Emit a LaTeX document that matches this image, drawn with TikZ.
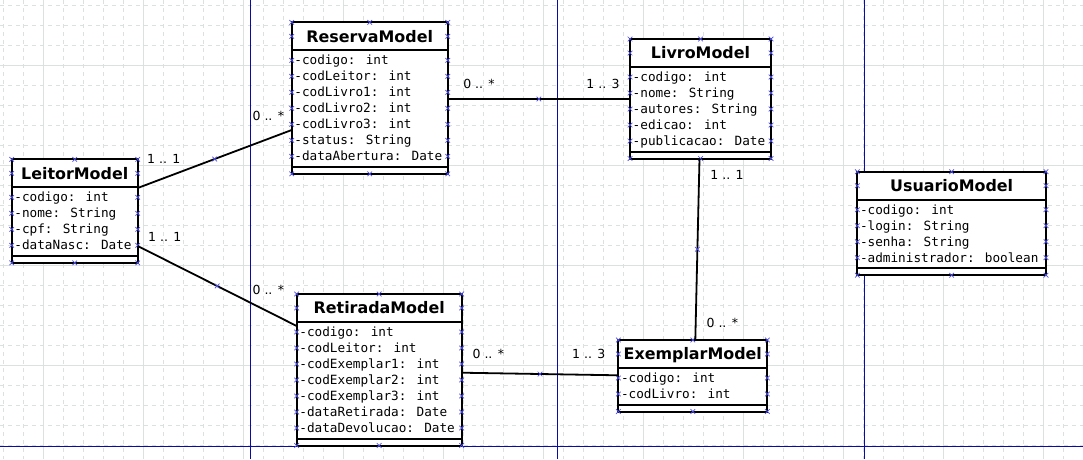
\documentclass[tikz,border=0pt]{standalone}
\usepackage{fontspec}
\newfontfamily\sansf{DejaVu Sans}
\newfontfamily\monof{DejaVu Sans Mono}
\definecolor{gridc}{RGB}{218,225,222}
\definecolor{pagec}{RGB}{10,10,165}
\definecolor{markc}{RGB}{80,80,235}
\tikzset{
  minorgrid/.style={draw=gridc, line width=1pt, dash pattern=on 4pt off 4pt},
  majorgrid/.style={draw=gridc, line width=1pt},
  pageline/.style={draw=pagec, line width=1pt},
  classbox/.style={draw=black, line width=2pt, fill=white, inner sep=0pt, outer sep=0pt, anchor=north west},
  sepline/.style={draw=black, line width=2pt},
  titletext/.style={font=\sansf\bfseries\fontsize{15.9}{18}\selectfont, inner sep=0pt, anchor=base},
  attrtext/.style={font=\monof\fontsize{12.7}{15}\selectfont, inner sep=0pt, anchor=base west},
  multtext/.style={font=\sansf\fontsize{12.5}{15}\selectfont, inner sep=0pt, anchor=base},
  conn/.style={draw=black, line width=1.8pt},
  mk/.style={draw=markc, line width=0.7pt},
  xmark/.pic={\draw[mk] (-2.3,-2.3) -- (2.3,2.3) (-2.3,2.3) -- (2.3,-2.3);},
}
\newcommand\umlclass[7]{%
  \pgfmathsetmacro\cL{#2}%
  \pgfmathsetmacro\cT{#3}%
  \pgfmathsetmacro\cR{#4}%
  \pgfmathsetmacro\cS{\cT+28}%
  \pgfmathsetmacro\cA{\cS+16*#5+4.5}%
  \pgfmathsetmacro\cB{\cA+7}%
  \pgfmathsetmacro\cM{(\cL+\cR)/2}%
  \pgfmathsetmacro\cW{\cR-\cL}%
  \pgfmathsetmacro\cH{\cB-\cT}%
  \node[classbox, minimum width=\cW pt, minimum height=\cH pt] (#1) at (\cL,\cT) {};
  \draw[sepline] (\cL,\cS) -- (\cR,\cS) (\cL,\cA) -- (\cR,\cA);
  \node[titletext] (#1-title) at (\cM,\cT+19.9) {#6};
  \foreach \aname [count=\i] in {#7} {
    \pgfmathsetmacro\yy{\cT+38+16*(\i-1)}
    \node[attrtext] (#1-a\i) at (\cL+2.5,\yy+4.5) {\aname};
    \pic at (\cL,\yy) {xmark};
    \pic at (\cR,\yy) {xmark};
  }
  \foreach \px/\py in {\cL/\cT, \cM/\cT, \cR/\cT, \cL/\cB, \cM/\cB, \cR/\cB} {\pic at (\px,\py) {xmark};}
  \pic at (\cL,\cT+14) {xmark};
  \pic at (\cR,\cT+14) {xmark};
}
\begin{document}
\begin{tikzpicture}[x=1pt,y=-1pt]
\useasboundingbox (0,0) rectangle (1083,459);
\fill[white] (0,0) rectangle (1083,459);
\begin{scope}
  \clip (0,0) rectangle (1083,459);
  \foreach \x in {3.3,23.3,...,1083} {\draw[minorgrid] (\x,0) -- (\x,459);}
  \foreach \y in {5,25,...,459} {\draw[minorgrid] (0,\y) -- (1083,\y);}
  \foreach \x in {43.3,143.3,...,1083} {\draw[majorgrid] (\x,0) -- (\x,459);}
  \foreach \y in {65,165,...,459} {\draw[majorgrid] (0,\y) -- (1083,\y);}
  \foreach \x in {250,557,864} {\draw[pageline] (\x,0) -- (\x,459);}
  \draw[pageline] (0,446) -- (1083,446);
\end{scope}

\umlclass{leitor}{11.7}{159.3}{137.7}{4}{LeitorModel}{-codigo: int,-nome: String,-cpf: String,-dataNasc: Date}
\umlclass{reserva}{291.7}{22.3}{447.7}{7}{ReservaModel}{-codigo: int,-codLeitor: int,-codLivro1: int,-codLivro2: int,-codLivro3: int,-status: String,-dataAbertura: Date}
\umlclass{livro}{630}{39}{771}{5}{LivroModel}{-codigo: int,-nome: String,-autores: String,-edicao: int,-publicacao: Date}
\umlclass{usuario}{857.3}{171.7}{1046}{4}{UsuarioModel}{-codigo: int,-login: String,-senha: String,-administrador: boolean}
\umlclass{retirada}{296.7}{294}{461.7}{7}{RetiradaModel}{-codigo: int,-codLeitor: int,-codExemplar1: int,-codExemplar2: int,-codExemplar3: int,-dataRetirada: Date,-dataDevolucao: Date}
\umlclass{exemplar}{618.3}{340}{767.3}{2}{ExemplarModel}{-codigo: int,-codLivro: int}

\draw[conn] ([yshift=-28.7pt]leitor.north east) -- ([yshift=-107.7pt]reserva.north west) coordinate[pos=0.5] (m1);
\draw[conn] ([yshift=-86.7pt]leitor.north east) -- ([yshift=-32pt]retirada.north west) coordinate[pos=0.5] (m2);
\draw[conn] ([yshift=-76.7pt]reserva.north east) -- ([yshift=-60pt]livro.north west) coordinate[pos=0.5] (m3);
\draw[conn] ([yshift=-78.7pt]retirada.north east) -- ([yshift=-35.3pt]exemplar.north west) coordinate[pos=0.5] (m4);
\draw[conn] ([xshift=69.5pt]livro.south west) -- ([xshift=77pt]exemplar.north west) coordinate[pos=0.5] (m5);
\foreach \m in {m1,m2,m3,m4,m5} {\pic at (\m) {xmark};}

\node[multtext] (l1a) at (163.8,163.5) {1 .. 1};
\node[multtext] (l1b) at (268.3,120.7) {0 .. *};
\node[multtext] (l2a) at (164.7,241.7) {1 .. 1};
\node[multtext] (l2b) at (268.3,294) {0 .. *};
\node[multtext] (l3a) at (479,88.5) {0 .. *};
\node[multtext] (l3b) at (603,88.5) {1 .. 3};
\node[multtext] (l4a) at (488.3,358.3) {0 .. *};
\node[multtext] (l4b) at (588.8,358.3) {1 .. 3};
\node[multtext] (l5a) at (727,179) {1 .. 1};
\node[multtext] (l5b) at (722.3,327.3) {0 .. *};
\end{tikzpicture}
\end{document}
